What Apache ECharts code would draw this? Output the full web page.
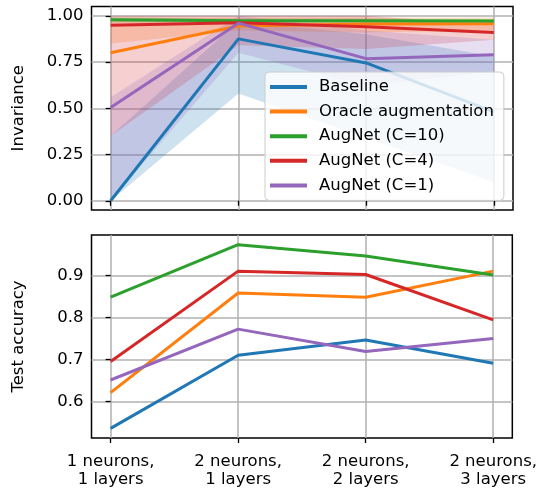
<!DOCTYPE html>
<html>
<head>
<meta charset="utf-8">
<script src="https://cdn.jsdelivr.net/npm/echarts@6/dist/echarts.min.js"></script>
<style>
  html, body { margin: 0; padding: 0; background: #ffffff; }
  #chart { width: 540px; height: 490px; }
</style>
</head>
<body>
<div id="chart"></div>
<script>
// Model configurations along the x axis
const categories = ['1 neurons,\n1 layers', '2 neurons,\n1 layers', '2 neurons,\n2 layers', '2 neurons,\n3 layers'];
const seriesNames = ['Baseline', 'Oracle augmentation', 'AugNet (C=10)', 'AugNet (C=4)', 'AugNet (C=1)'];
const colors = ['#1f77b4', '#ff7f0e', '#2ca02c', '#d62728', '#9467bd'];

// Invariance: central line per method
const invBaseline = [0.0, 0.875, 0.745, 0.48];
const invOracle   = [0.80, 0.945, 0.955, 0.957];
const invC10      = [0.978, 0.973, 0.973, 0.971];
const invC4       = [0.948, 0.962, 0.94, 0.91];
const invC1       = [0.504, 0.96, 0.768, 0.789];

// Invariance: shaded spread (lower / upper edge) per method
const invBaselineLo = [0.0, 0.58, 0.34, 0.10];
const invBaselineHi = [0.35, 0.97, 0.90, 0.78];
const invOracleLo   = [0.85, 0.92, 0.91, 0.92];
const invOracleHi   = [0.99, 0.99, 0.99, 0.99];
const invC10Lo      = [0.965, 0.962, 0.962, 0.96];
const invC10Hi      = [0.99, 0.985, 0.985, 0.982];
const invC4Lo       = [0.35, 0.84, 0.82, 0.87];
const invC4Hi       = [1.0, 1.0, 1.0, 0.95];
const invC1Lo       = [0.0, 0.80, 0.62, 0.70];
const invC1Hi       = [0.56, 1.0, 0.92, 0.87];

// Test accuracy per method
const accBaseline = [0.536, 0.710, 0.746, 0.691];
const accOracle   = [0.621, 0.858, 0.848, 0.910];
const accC10      = [0.848, 0.973, 0.946, 0.901];
const accC4       = [0.695, 0.910, 0.902, 0.794];
const accC1       = [0.651, 0.772, 0.719, 0.750];

// Tick values
const invTicks = [0, 0.25, 0.5, 0.75, 1.0];
const accTicks = [0.6, 0.7, 0.8, 0.9];
const xTicks = [0, 1, 2, 3];

const invMeans = [invBaseline, invOracle, invC10, invC4, invC1];
const invLows  = [invBaselineLo, invOracleLo, invC10Lo, invC4Lo, invC1Lo];
const invHighs = [invBaselineHi, invOracleHi, invC10Hi, invC4Hi, invC1Hi];
const accAll   = [accBaseline, accOracle, accC10, accC4, accC1];

const FONT = 'DejaVu Sans';
const FONT_SIZE = 16.5;
const GRID_COLOR = '#b0b0b0';

function pairs(values) {
  return values.map((v, i) => [i, v]);
}

function xAxisFor(gridIndex, showLabels) {
  return {
    type: 'value', gridIndex: gridIndex, min: -0.15, max: 3.15,
    axisLine: { show: false },
    axisTick: { show: true, length: 5, lineStyle: { color: '#000', width: 1.3 }, customValues: xTicks },
    axisLabel: {
      show: showLabels, customValues: xTicks, margin: 15,
      fontFamily: FONT, fontSize: FONT_SIZE, color: '#000', lineHeight: 18,
      formatter: v => categories[Math.round(v)] || ''
    },
    splitLine: { show: true, lineStyle: { color: GRID_COLOR, width: 1.5 } }
  };
}

function yAxisFor(gridIndex, min, max, ticks, name, fmt) {
  return {
    type: 'value', gridIndex: gridIndex, min: min, max: max,
    name: name, nameLocation: 'middle', nameGap: 64, nameRotate: 90,
    nameTextStyle: { fontFamily: FONT, fontSize: FONT_SIZE, color: '#000' },
    axisLine: { show: false },
    axisTick: { show: true, length: 5, lineStyle: { color: '#000', width: 1.3 }, customValues: ticks },
    axisLabel: { customValues: ticks, margin: 8, fontFamily: FONT, fontSize: FONT_SIZE, color: '#000', formatter: fmt },
    splitLine: { show: true, lineStyle: { color: GRID_COLOR, width: 1.5 } }
  };
}

const series = [];

// Shaded spread for each method: polygon between its lower and upper edges
invMeans.forEach((_, k) => {
  series.push({
    name: 'spread-' + k, type: 'custom', xAxisIndex: 0, yAxisIndex: 0,
    data: [[0, invLows[k][0]]], silent: true, z: 1,
    renderItem: (params, api) => {
      const lo = invLows[k], hi = invHighs[k];
      const pts = [];
      hi.forEach((v, i) => pts.push(api.coord([i, v])));
      for (let i = lo.length - 1; i >= 0; i--) pts.push(api.coord([i, lo[i]]));
      return {
        type: 'polygon',
        shape: { points: pts },
        style: { fill: colors[k], opacity: 0.22 }
      };
    }
  });
});

// Invariance lines
invMeans.forEach((vals, k) => {
  series.push({
    name: seriesNames[k], type: 'line', xAxisIndex: 0, yAxisIndex: 0,
    data: pairs(vals), symbol: 'none', color: colors[k],
    lineStyle: { width: 3, color: colors[k] }, z: 2
  });
});

// Test accuracy lines
accAll.forEach((vals, k) => {
  series.push({
    name: seriesNames[k], type: 'line', xAxisIndex: 1, yAxisIndex: 1,
    data: pairs(vals), symbol: 'none', color: colors[k],
    lineStyle: { width: 3, color: colors[k] }, z: 2
  });
});

const chart = echarts.init(document.getElementById('chart'), null, { renderer: 'canvas' });
chart.setOption({
  animation: false,
  backgroundColor: '#ffffff',
  grid: [
    { left: 91.5, right: 27, top: 6.5, height: 203.5, show: true, borderColor: '#000', borderWidth: 1.5, backgroundColor: 'transparent' },
    { left: 91.5, right: 27, top: 235, height: 203, show: true, borderColor: '#000', borderWidth: 1.5, backgroundColor: 'transparent' }
  ],
  xAxis: [xAxisFor(0, false), xAxisFor(1, true)],
  yAxis: [
    yAxisFor(0, -0.05, 1.05, invTicks, 'Invariance', v => v.toFixed(2)),
    yAxisFor(1, 0.513, 0.996, accTicks, 'Test accuracy', v => v.toFixed(1))
  ],
  legend: {
    data: seriesNames,
    orient: 'vertical',
    left: 265, top: 72,
    icon: 'rect', itemWidth: 37, itemHeight: 4, itemGap: 6.6,
    padding: [6, 10, 6, 5],
    backgroundColor: 'rgba(255,255,255,0.8)',
    borderColor: '#cccccc', borderWidth: 1, borderRadius: 4,
    textStyle: { fontFamily: FONT, fontSize: FONT_SIZE, color: '#000', lineHeight: 18, padding: [0, 0, 0, 7] },
    selectedMode: false
  },
  series: series
});
</script>
</body>
</html>
